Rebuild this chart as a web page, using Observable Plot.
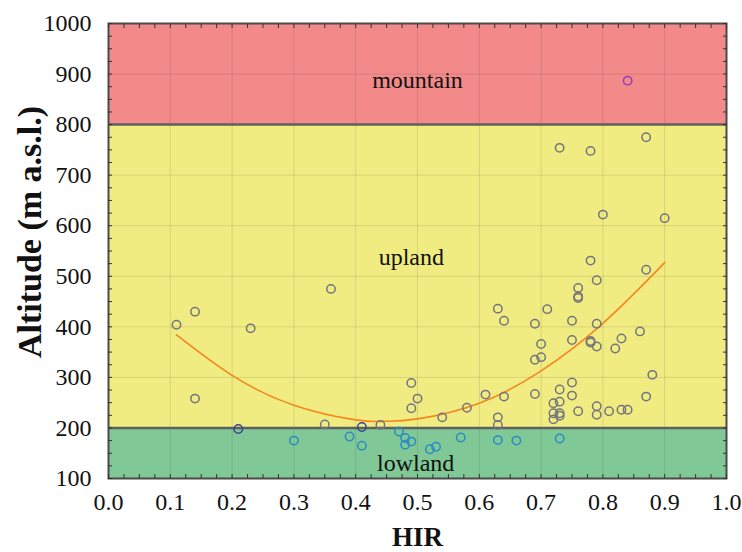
<!DOCTYPE html>
<html>
<head>
<meta charset="utf-8">
<script src="https://cdn.jsdelivr.net/npm/d3@7"></script>
<script src="https://cdn.jsdelivr.net/npm/@observablehq/plot@0.6"></script>
<style>
  html, body { margin: 0; padding: 0; background: #fff; }
  #chart svg { display: block; }
  #chart svg, #chart svg text { font-family: "Liberation Serif", "Times New Roman", serif; }
</style>
</head>
<body>
<div id="chart"></div>
<script>
// ---- data ----
const zones = ["lowland", "upland", "mountain"];
const zoneLow = [100, 200, 800];
const zoneHigh = [200, 800, 1000];
const zoneColors = ["#80c896", "#f0ec82", "#f28a8a"];
const zoneLabelX = [0.497, 0.49, 0.50];
const zoneLabelY = [131, 538, 887];

// sites: HIR and altitude
const hir = [
  0.11, 0.14, 0.14, 0.23, 0.36, 0.35, 0.41, 0.44, 0.49, 0.50, 0.49, 0.54, 0.58, 0.61,
  0.63, 0.64, 0.64, 0.63, 0.63, 0.69, 0.71, 0.70, 0.69, 0.70, 0.69, 0.73, 0.78, 0.87,
  0.80, 0.90, 0.75, 0.76, 0.76, 0.76, 0.78, 0.79, 0.79, 0.75, 0.78, 0.78, 0.79, 0.82,
  0.83, 0.86, 0.87, 0.73, 0.75, 0.75, 0.72, 0.73, 0.72, 0.73, 0.73, 0.72, 0.76, 0.79,
  0.79, 0.81, 0.83, 0.84, 0.87, 0.88,
  0.21, 0.30, 0.39, 0.41, 0.47, 0.48, 0.48, 0.49, 0.52, 0.53, 0.57, 0.63, 0.66, 0.73,
  0.84
];
const altitude = [
  404, 430, 258, 397, 475, 207, 202, 206, 289, 258, 239, 221, 240, 266,
  436, 412, 262, 221, 206, 406, 435, 366, 335, 340, 267, 754, 748, 775,
  622, 615, 412, 477, 457, 460, 531, 492, 406, 374, 372, 369, 361, 357,
  377, 391, 513, 276, 290, 264, 249, 252, 229, 229, 224, 217, 233, 243,
  226, 233, 236, 236, 262, 305,
  198, 175, 183, 165, 193, 180, 167, 173, 158, 163, 181, 176, 175, 179,
  887
];

// fitted trend curve
const fitX = [0.11, 0.2, 0.3, 0.4, 0.445, 0.5, 0.6, 0.7, 0.8, 0.9];
const fitY = [384, 304, 245, 216, 213, 218, 249, 313, 407, 527];

const xTicks = [0, 0.1, 0.2, 0.3, 0.4, 0.5, 0.6, 0.7, 0.8, 0.9, 1.0];
const yTicks = [100, 200, 300, 400, 500, 600, 700, 800, 900, 1000];

// ---- tables ----
const bands = zones.map((z, i) => ({zone: z, lo: zoneLow[i], hi: zoneHigh[i], color: zoneColors[i], lx: zoneLabelX[i], ly: zoneLabelY[i]}));
const sites = hir.map((h, i) => ({hir: h, alt: altitude[i]}));
const fit = fitX.map((x, i) => ({x, y: fitY[i]}));

function pointColor(a) {
  if (a > 800) return "#8e3fbf";
  if (a >= 196 && a <= 203) return "#33449a";
  if (a < 200) return "#2a8bc6";
  return "#74747f";
}

const serif = "Liberation Serif";

const chart = Plot.plot({
  width: 742,
  height: 552,
  marginLeft: 108,
  marginRight: 16,
  marginTop: 23,
  marginBottom: 74,
  style: {background: "#fff", color: "#111"},
  x: {domain: [0, 1]},
  y: {domain: [100, 1000]},
  marks: [
    Plot.rectY(bands, {x1: 0, x2: 1, y1: "lo", y2: "hi", fill: "color"}),
    Plot.gridX(xTicks, {stroke: "#000", strokeOpacity: 0.1, strokeWidth: 1}),
    Plot.gridY(yTicks, {stroke: "#000", strokeOpacity: 0.1, strokeWidth: 1}),
    Plot.ruleY([200, 800], {stroke: "#5f5f5f", strokeWidth: 2.5}),
    Plot.text(bands, {x: "lx", y: "ly", text: "zone", fontSize: 24, fill: "#111", fontFamily: serif}),
    Plot.line(fit, {x: "x", y: "y", stroke: "#f5861f", strokeWidth: 1.6, curve: "natural"}),
    Plot.dot(sites, {x: "hir", y: "alt", r: 4.2, stroke: d => pointColor(d.alt), strokeWidth: 1.5, fill: "none"}),
    Plot.frame({stroke: "#4a4a4a", strokeWidth: 2}),
    // minor inward ticks on all sides
    Plot.axisX({anchor: "bottom", ticks: d3.range(0, 1.0001, 0.025), tickSize: -4, text: null, label: null, stroke: "#333"}),
    Plot.axisX({anchor: "top", ticks: d3.range(0, 1.0001, 0.025), tickSize: -4, text: null, label: null, stroke: "#333"}),
    Plot.axisY({anchor: "left", ticks: d3.range(100, 1000.1, 25), tickSize: -4, text: null, label: null, stroke: "#333"}),
    Plot.axisY({anchor: "right", ticks: d3.range(100, 1000.1, 25), tickSize: -4, text: null, label: null, stroke: "#333"}),
    // tick labels
    Plot.axisX({anchor: "bottom", ticks: xTicks, tickSize: 0, tickPadding: 14, tickFormat: d => d.toFixed(1), fontSize: 24, fontFamily: serif, fontVariant: "normal", label: null, fill: "#111"}),
    Plot.axisY({anchor: "left", ticks: yTicks, tickSize: 0, tickPadding: 17, tickFormat: d => String(d), fontSize: 24, fontFamily: serif, fontVariant: "normal", label: null, fill: "#111"}),
    // axis titles
    Plot.text(["HIR"], {frameAnchor: "bottom", dy: 59, lineAnchor: "middle", textAnchor: "middle", fontSize: 27, fontWeight: "bold", fill: "#111", fontFamily: serif}),
    Plot.text(["Altitude (m a.s.l.)"], {frameAnchor: "left", dx: -78, dy: -19, rotate: -90, textAnchor: "middle", lineAnchor: "middle", fontSize: 34, fontWeight: "bold", fill: "#111", fontFamily: serif})
  ]
});

document.getElementById("chart").appendChild(chart);
</script>
</body>
</html>
